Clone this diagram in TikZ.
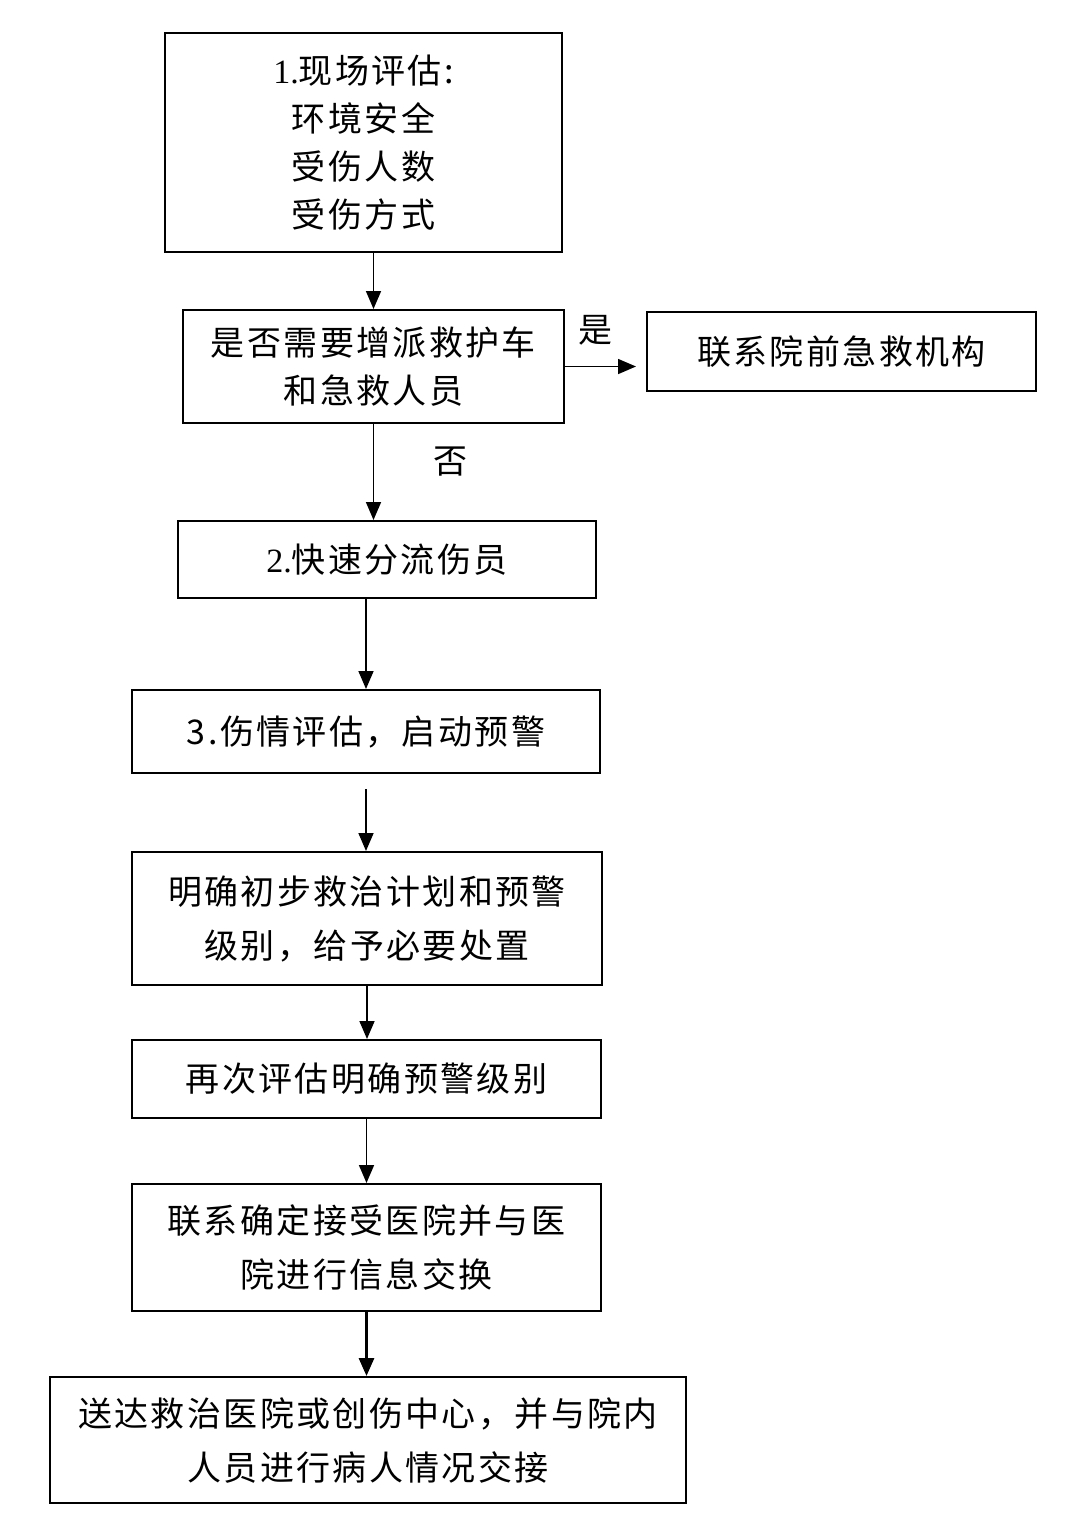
\documentclass[tikz,border=0pt]{standalone}
\usepackage{fontspec}
\setmainfont{Liberation Serif}
\newfontfamily\cjk[LetterSpace=7]{Noto Sans CJK SC}
\usetikzlibrary{arrows.meta,calc}

\begin{document}
\begin{tikzpicture}
    [x=1pt,y=-1pt,
     every node/.style={font=\cjk\fontsize{34}{48}\selectfont},
     box/.style={draw, line width=2pt, align=center, inner sep=0pt},
     tall/.style={font=\cjk\fontsize{34}{54}\selectfont},
     arr/.style={line width=1.6pt, -{Triangle[length=18pt,width=15pt]}}]
    \useasboundingbox (0,0) rectangle (1080,1527);

    \node[box, minimum width=397pt, minimum height=219pt] (scene) at (363.5,142.5)
      {{\rmfamily 1.}现场评估:\\环境安全\\受伤人数\\受伤方式};
    \node[box, minimum width=381pt, minimum height=113pt] (need) at (373.5,366.5)
      {是否需要增派救护车\\和急救人员};
    \node[box, minimum width=389pt, minimum height=79pt] (prehosp) at (841.5,351.5)
      {联系院前急救机构};
    \node[box, minimum width=418pt, minimum height=77pt] (triage) at (387,559.5)
      {{\rmfamily 2.}快速分流伤员};
    \node[box, minimum width=468pt, minimum height=83pt] (grade) at (366,731.5)
      {3.伤情评估，启动预警};
    \node[box, tall, minimum width=470pt, minimum height=133pt] (plan) at (367,918.5)
      {明确初步救治计划和预警\\级别，给予必要处置};
    \node[box, minimum width=469pt, minimum height=78pt] (reeval) at (366.5,1079)
      {再次评估明确预警级别};
    \node[box, tall, minimum width=469pt, minimum height=127pt] (hosp) at (366.5,1247.5)
      {联系确定接受医院并与医\\院进行信息交换};
    \node[box, tall, minimum width=636pt, minimum height=126pt] (handover) at (368,1440)
      {送达救治医院或创伤中心，并与院内\\人员进行病人情况交接};

    \node (yes) at (595,330) {是};
    \node (no) at (450,462) {否};

    \draw[arr] (scene.south -| need.north) -- (need.north);
    \draw[arr, shorten >=10pt] (need.east) -- (need.east -| prehosp.west);
    \draw[arr] (need.south) -- (need.south |- triage.north);
    \draw[arr] (triage.south -| grade.north) -- (grade.north);
    \draw[arr] ($(grade.south)+(0,15)$) -- (grade.south |- plan.north);
    \draw[arr] (plan.south) -- (plan.south |- reeval.north);
    \draw[arr] (reeval.south) -- (reeval.south |- hosp.north);
    \draw[arr, line width=3pt] (hosp.south) -- (hosp.south |- handover.north);
\end{tikzpicture}
\end{document}
